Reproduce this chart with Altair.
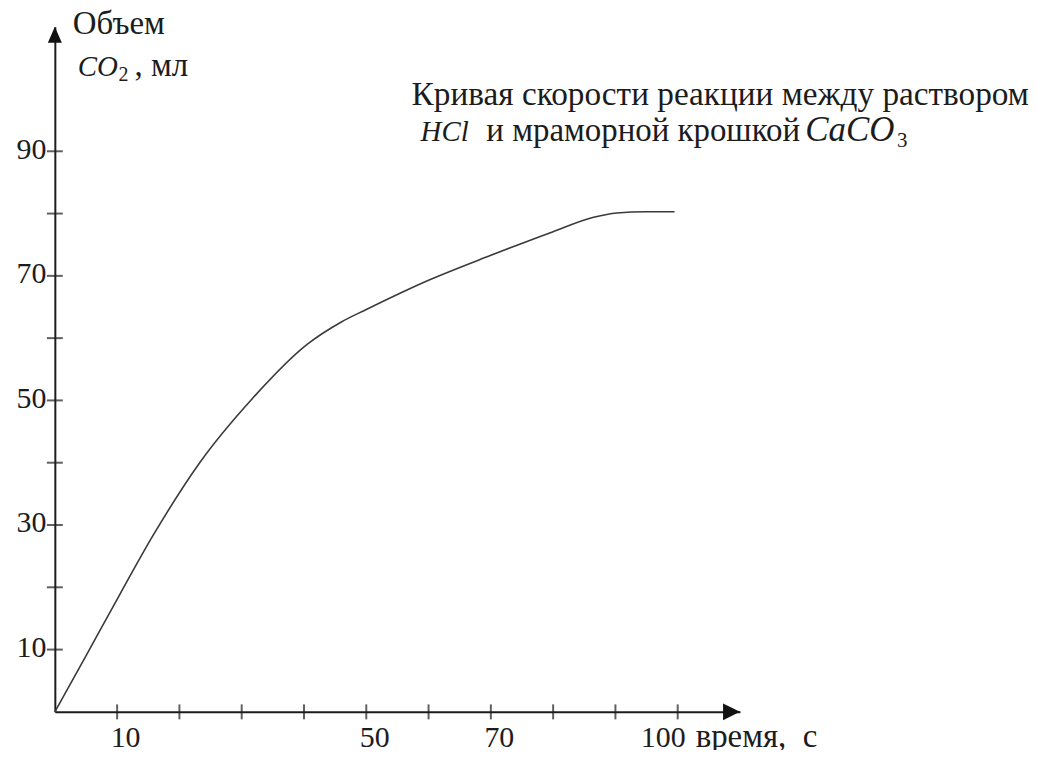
import altair as alt
import pandas as pd

# --- data ---
time_s = [0, 5, 10.4, 15.7, 23.4, 31.8, 40.5, 46, 50, 60, 70, 80, 86.5, 90.2, 95, 99.5]
volume_ml = [0, 9, 18.8, 28.2, 40.2, 50.4, 59, 62.6, 64.6, 69.3, 73.3, 77.1, 79.4, 80.1, 80.3, 80.3]

x_ticks = [10, 20, 30, 40, 50, 60, 70, 80, 90, 100]
y_ticks = [10, 20, 30, 40, 50, 60, 70, 80, 90]
x_labels = [10, 50, 70, 100]
y_labels = [10, 30, 50, 70, 90]

x_unit = "время,\u00a0 с"
y_name = "Объем"
y_unit_main = "CO"
y_unit_sub = "2"
y_unit_rest = ", мл"
title_1 = "Кривая скорости реакции между раствором"
title_2a = "HCl"
title_2b = "и мраморной крошкой"
title_2c = "CaCO"
title_2d = "3"

FONT = "Liberation Serif"
INK = "#1c1c1c"
FS = 30
TS = 33
W = 687.5
H = 687.5

xscale = alt.Scale(domain=[0, 110], nice=False, zero=True)
yscale = alt.Scale(domain=[0, 110], nice=False, zero=True)

curve_df = pd.DataFrame({"t": time_s, "v": volume_ml})

x_axis = alt.Axis(
    values=x_labels,
    ticks=False, tickSize=0, grid=False, title=None,
    domain=True, domainColor=INK, domainWidth=2,
    labelFont=FONT, labelFontSize=FS, labelColor=INK,
    labelPadding=11, labelBaseline="top", labelAlign="center",
    labelOffset={"condition": {"test": "datum.value == 100", "value": -15}, "value": 8},
    labelFlush=False, labelOverlap=False, labelBound=False,
)
y_axis = alt.Axis(
    values=y_labels,
    ticks=False, tickSize=0, grid=False, title=None,
    domain=True, domainColor=INK, domainWidth=2,
    labelFont=FONT, labelFontSize=FS, labelColor=INK,
    labelPadding=9, labelAlign="right", labelBaseline="middle", labelOffset=-2,
    labelFlush=False, labelOverlap=False, labelBound=False,
)

line = alt.Chart(curve_df).mark_line(
    color="#3a3a3a", strokeWidth=1.6, interpolate="monotone"
).encode(
    x=alt.X("t:Q", scale=xscale, axis=x_axis),
    y=alt.Y("v:Q", scale=yscale, axis=y_axis),
)

xt = alt.Chart(pd.DataFrame({"t": x_ticks})).mark_tick(
    color=INK, thickness=2, size=15, orient="vertical"
).encode(x=alt.X("t:Q", scale=xscale), y=alt.datum(0, scale=yscale))

yt = alt.Chart(pd.DataFrame({"v": y_ticks})).mark_tick(
    color=INK, thickness=2, size=16, orient="horizontal"
).encode(y=alt.Y("v:Q", scale=yscale), x=alt.datum(0, scale=xscale))

arrow_up = alt.Chart(pd.DataFrame({"t": [0], "v": [108.72]})).mark_point(
    shape="M0,-1L0.875,1L-0.875,1Z", size=256, filled=True, color="#111111",
    opacity=1, strokeWidth=0
).encode(x=alt.X("t:Q", scale=xscale), y=alt.Y("v:Q", scale=yscale))

arrow_right = alt.Chart(pd.DataFrame({"t": [108.64], "v": [0]})).mark_point(
    shape="M1,0L-1,-1L-1,1Z", size=289, filled=True, color="#111111",
    opacity=1, strokeWidth=0
).encode(x=alt.X("t:Q", scale=xscale), y=alt.Y("v:Q", scale=yscale))


def txt(s, x, y, size=TS, style="normal"):
    return alt.Chart(pd.DataFrame({"s": [s]})).mark_text(
        font=FONT, fontSize=size, fontStyle=style, color=INK,
        align="left", baseline="alphabetic"
    ).encode(x=alt.value(x), y=alt.value(y), text="s:N")


texts = [
    txt(y_name, 18, 7.5),
    txt(y_unit_main, 23, 49.5, size=29, style="italic"),
    txt(y_unit_sub, 64, 54.5, size=20),
    txt(y_unit_rest, 80, 49.5),
    txt(title_1, 358, 78.5, size=33.4),
    txt(title_2a, 367, 114.5, size=29, style="italic"),
    txt(title_2b, 433, 114.5),
    txt(title_2c, 753, 114.5, size=35, style="italic"),
    txt(title_2d, 845, 120.5, size=21),
    txt(x_unit, 643, 722.5),
]

chart = alt.layer(line, xt, yt, arrow_up, arrow_right, *texts).properties(
    width=W, height=H,
    autosize=alt.AutoSizeParams(type="none"),
    padding={"left": 47, "top": 17.5, "right": 290, "bottom": 37},
    background="white",
).configure_view(stroke=None)

chart.save("out.html", embed_options={"renderer": "svg", "actions": False})
